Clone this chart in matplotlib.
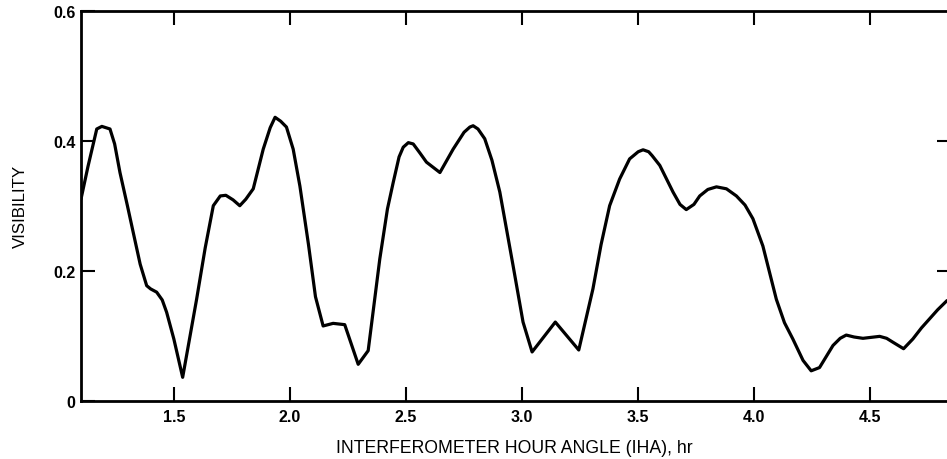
import matplotlib.pyplot as plt
import numpy as np

# hour angle (hr) and visibility
iha = [1.100, 1.130, 1.168, 1.190, 1.225, 1.245, 1.268, 1.300, 1.325, 1.355, 1.383,
       1.400, 1.426, 1.450, 1.469, 1.500, 1.538, 1.560, 1.598, 1.635, 1.670, 1.700,
       1.724, 1.755, 1.784, 1.810, 1.842, 1.885, 1.915, 1.936, 1.960, 1.985, 2.014,
       2.043, 2.080, 2.110, 2.143, 2.186, 2.236, 2.294, 2.337, 2.387, 2.420, 2.445,
       2.470, 2.488, 2.510, 2.531, 2.560, 2.588, 2.646, 2.703, 2.750, 2.775, 2.789,
       2.810, 2.839, 2.870, 2.904, 2.961, 3.004, 3.043, 3.143, 3.244, 3.305, 3.340,
       3.377, 3.420, 3.463, 3.500, 3.521, 3.545, 3.560, 3.593, 3.650, 3.680, 3.707,
       3.740, 3.765, 3.800, 3.837, 3.880, 3.923, 3.960, 3.994, 4.037, 4.095, 4.130,
       4.166, 4.210, 4.245, 4.281, 4.310, 4.339, 4.370, 4.396, 4.430, 4.468, 4.540,
       4.570, 4.597, 4.643, 4.683, 4.720, 4.755, 4.790, 4.830]
vis = [0.310, 0.360, 0.418, 0.422, 0.418, 0.395, 0.351, 0.300, 0.259, 0.210, 0.177,
       0.172, 0.167, 0.155, 0.136, 0.095, 0.036, 0.080, 0.156, 0.235, 0.300, 0.315,
       0.316, 0.309, 0.300, 0.310, 0.326, 0.387, 0.420, 0.436, 0.430, 0.421, 0.387,
       0.330, 0.240, 0.160, 0.115, 0.119, 0.117, 0.056, 0.077, 0.218, 0.295, 0.336,
       0.375, 0.390, 0.397, 0.395, 0.381, 0.367, 0.351, 0.387, 0.413, 0.421, 0.423,
       0.418, 0.403, 0.370, 0.321, 0.208, 0.121, 0.075, 0.121, 0.078, 0.172, 0.240,
       0.300, 0.341, 0.372, 0.383, 0.386, 0.383, 0.377, 0.362, 0.321, 0.302, 0.294,
       0.302, 0.315, 0.325, 0.329, 0.326, 0.315, 0.301, 0.280, 0.238, 0.156, 0.120,
       0.095, 0.062, 0.046, 0.051, 0.068, 0.085, 0.096, 0.101, 0.098, 0.096, 0.099,
       0.096, 0.090, 0.080, 0.095, 0.112, 0.126, 0.140, 0.154]

x_ticks = [1.5, 2.0, 2.5, 3.0, 3.5, 4.0, 4.5]
x_labels = ['1.5', '2.0', '2.5', '3.0', '3.5', '4.0', '4.5']
y_ticks = [0, 0.2, 0.4, 0.6]
y_labels = ['0', '0.2', '0.4', '0.6']

plt.rcParams['font.family'] = ['Liberation Sans', 'DejaVu Sans']

fig = plt.figure(figsize=(9.47, 4.6), dpi=100)
ax = fig.add_axes([0.0855, 0.1267, 0.9145, 0.8479])
ax.plot(iha, vis, color='black', lw=2.3, solid_joinstyle='round', solid_capstyle='round')

ax.set_xlim(1.1, 4.83)
ax.set_ylim(0, 0.6)
ax.set_xticks(x_ticks)
ax.set_xticklabels(x_labels, fontsize=11.5, fontweight='bold')
ax.set_yticks(y_ticks)
ax.set_yticklabels(y_labels, fontsize=11.5, fontweight='bold')
ax.tick_params(axis='x', direction='in', top=True, length=10, width=1.5, pad=6)
ax.tick_params(axis='y', direction='in', length=10, width=1.5, pad=4)

for s in ['left', 'top', 'bottom']:
    ax.spines[s].set_linewidth(2)
ax.spines['right'].set_visible(False)

sec = ax.secondary_yaxis('right')
sec.set_yticks([0.2, 0.4])
sec.tick_params(direction='in', length=7, width=1.5, labelright=False)
sec.spines['right'].set_visible(False)

ax.set_xlabel('INTERFEROMETER HOUR ANGLE (IHA), hr', fontsize=12.7, labelpad=11)
ax.set_ylabel('VISIBILITY', fontsize=12.2, labelpad=18)

fig.savefig('out.png', dpi=100)
